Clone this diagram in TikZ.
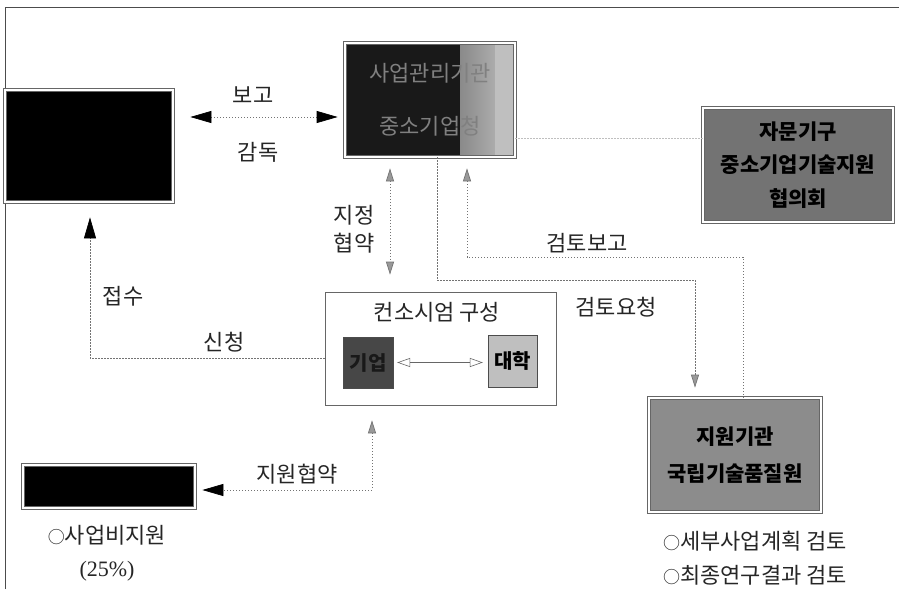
\documentclass[tikz,border=0pt]{standalone}
\usepackage{fontspec}
\setmainfont{Noto Sans CJK KR}
\newfontfamily\latinserif{Liberation Serif}
\usetikzlibrary{arrows.meta,calc}
\tikzset{
  lbl/.style={font=\fontsize{22}{24}\selectfont, inner sep=0pt, text=black!85},
  dbox/.style={draw=black!60, line width=0.7pt, double=white, double distance=2pt, inner sep=0pt},
  dotl/.style={draw=black!55, line width=0.7pt, dash pattern=on 1.2pt off 1.8pt},
  bigtip/.tip={Triangle[length=21pt,width=12pt,fill=black,color=black]},
  graytip/.tip={Triangle[length=13pt,width=8pt,fill=black!40,color=black!55]},
  opentip/.tip={Triangle[open,length=13pt,width=9pt,color=black!60]}
}
\newcommand{\smcirc}{{\fontsize{17}{20}\selectfont ○}}
\begin{document}
\begin{tikzpicture}[x=1pt,y=-1pt]
\useasboundingbox (0,0) rectangle (899,589);
\fill[white] (0,0) rectangle (899,589);
\draw[black!70, line width=0.8pt] (5,589) -- (5,7) -- (899,7);

% boxes
\node[dbox, fill=black, minimum width=168pt, minimum height=112pt] (gov) at (89,146) {};
\node[dbox, fill=black!90, minimum width=170pt, minimum height=114pt,
      path picture={
        \shade[left color=black!90, right color=black!25]
          ([xshift=-55pt]path picture bounding box.north east) rectangle ([xshift=-20pt]path picture bounding box.south east);
        \fill[black!25] ([xshift=-20pt]path picture bounding box.north east) rectangle (path picture bounding box.south east);
      },
      align=center, text=black!50, font=\fontsize{22}{53}\selectfont] (mgr) at (430,100) {사업관리기관\\중소기업청};
\node[dbox, fill=black!55, minimum width=190pt, minimum height=114pt, align=center,
      text=black, font=\bfseries\fontsize{21}{33.5}\selectfont] (adv) at (798,165) {자문기구\\중소기업기술지원\\협의회};
\node[draw=black!60, line width=0.7pt, minimum width=231pt, minimum height=113pt] (cons) at (440.5,348.5) {};
\node[lbl] (constitle) at (437,312) {컨소시엄 구성};
\node[draw=black!70, fill=black!72, minimum width=50pt, minimum height=51pt, inner sep=0pt,
      text=black!90, font=\bfseries\fontsize{20}{22}\selectfont] (firm) at (368,362.5) {기업};
\node[draw=black!70, fill=black!25, minimum width=49pt, minimum height=52pt, inner sep=0pt,
      text=black, font=\bfseries\fontsize{20}{22}\selectfont] (univ) at (512.5,361) {대학};
\node[dbox, fill=black, minimum width=172pt, minimum height=43pt] (local) at (109,486.5) {};
\node[dbox, fill=black!45, minimum width=172pt, minimum height=114pt, align=center,
      text=black, font=\bfseries\fontsize{21}{37}\selectfont] (inst) at (735,455) {지원기관\\국립기술품질원};

% labels
\node[lbl] (lbgo) at (253,95) {보고};
\node[lbl] (lbgd) at (258,152) {감독};
\node[lbl, align=center, font=\fontsize{22}{28}\selectfont] (lbjj) at (354,229) {지정\\협약};
\node[lbl] (lbrp) at (587,243) {검토보고};
\node[lbl] (lbrq) at (616,307) {검토요청};
\node[lbl] (lbjs) at (123,296) {접수};
\node[lbl] (lbsc) at (224,342) {신청};
\node[lbl] (lbsp) at (297,474) {지원협약};
\node[lbl] (lbsb) at (107,535) {\smcirc 사업비지원};
\node[lbl, font=\latinserif\fontsize{22}{24}\selectfont] (lbpc) at (107,571) {(25\%)};
\node[lbl, anchor=west] (lbi1) at (663,541) {\smcirc 세부사업계획 검토};
\node[lbl, anchor=west] (lbi2) at (663,575) {\smcirc 최종연구결과 검토};

% connectors
\draw[dotl, {bigtip}-{bigtip}, shorten <=17pt, shorten >=7pt]
  ([yshift=29pt]gov.east) -- ([yshift=-17pt]mgr.west);
\draw[dotl, {graytip}-{graytip}, shorten <=11pt, shorten >=17pt]
  ([xshift=-40pt]mgr.south) -- ([xshift=-50.5pt]cons.north);

\coordinate (rqA) at (437,280);
\coordinate (rqB) at (695,280);
\draw[dotl, -{graytip}, shorten >=10pt]
  ([xshift=7pt]mgr.south) -- (rqA) -- (rqB) -- (inst.north -| rqB);

\coordinate (rpA) at (743,257);
\coordinate (rpB) at (467,257);
\draw[dotl, {graytip}-, shorten <=11pt]
  (mgr.south -| rpB) -- (rpB) -- (rpA) -- (inst.north -| rpA);

\draw[dotl, draw=black!25] ([yshift=-38pt]mgr.east) -- ([yshift=27pt]adv.west);

\coordinate (apC) at (90,358);
\draw[dotl, -{bigtip}, shorten >=15pt]
  ([yshift=-9.5pt]cons.west) -- (apC) -- (gov.south -| apC);

\coordinate (spC) at (372,490);
\draw[dotl, {graytip}-{bigtip}, shorten <=15pt, shorten >=7pt]
  (cons.south -| spC) -- (spC) -- (local.east |- spC);

\draw[black!60, line width=0.6pt, {opentip}-{opentip}, shorten <=4pt, shorten >=5pt]
  (firm.east) -- (univ.west |- firm.east);
\end{tikzpicture}
\end{document}
